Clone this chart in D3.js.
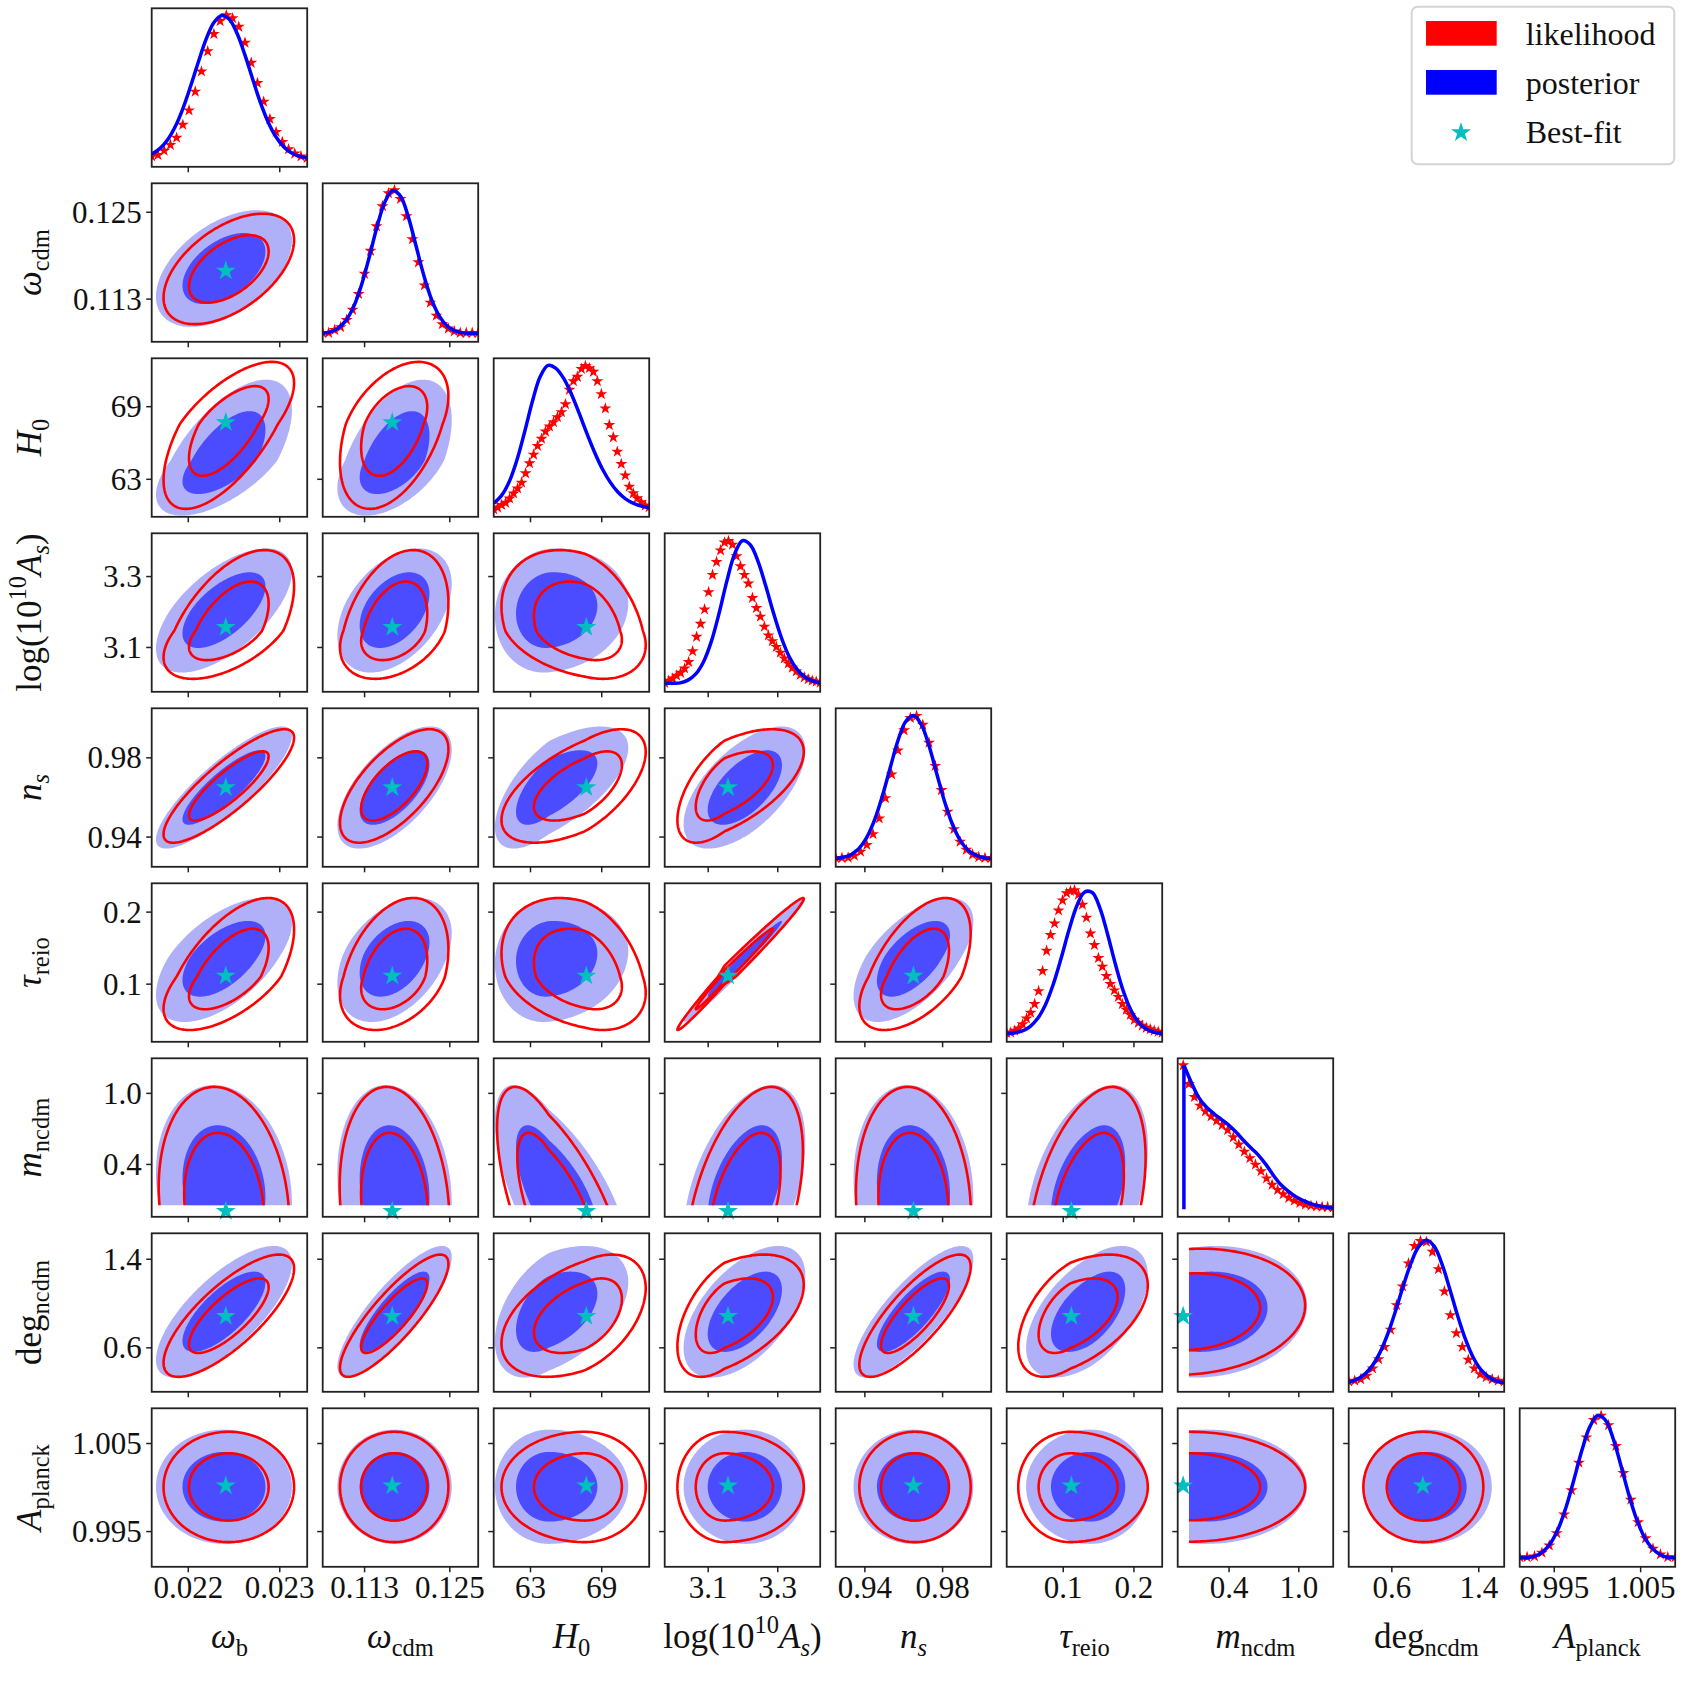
<!DOCTYPE html>
<html>
<head>
<meta charset="utf-8">
<script src="https://cdn.jsdelivr.net/npm/d3@7"></script>
<style>
  body { margin: 0; background: #fff; }
  svg { display: block; }
</style>
</head>
<body>
<div id="chart"></div>
<script>
// parameters in triangle order
const params = ['omega_b', 'omega_cdm', 'H0', 'logAs', 'n_s', 'tau_reio', 'm_ncdm', 'deg_ncdm', 'A_planck'];

// plotted range of every parameter
const domLo = [0.02160, 0.1071, 59.9, 2.975, 0.925, 0.020, -0.042, 0.203, 0.9910];
const domHi = [0.02330, 0.1290, 73.0, 3.422, 1.005, 0.240, 1.296, 1.634, 1.0090];

const tickVals = [[0.022, 0.023], [0.113, 0.125], [63, 69], [3.1, 3.3], [0.94, 0.98],
                  [0.1, 0.2], [0.4, 1.0], [0.6, 1.4], [0.995, 1.005]];
const tickText = [['0.022', '0.023'], ['0.113', '0.125'], ['63', '69'], ['3.1', '3.3'], ['0.94', '0.98'],
                  ['0.1', '0.2'], ['0.4', '1.0'], ['0.6', '1.4'], ['0.995', '1.005']];

const bestFit = [0.02241, 0.1169, 67.7, 3.157, 0.965, 0.1115, 0.005, 0.885, 1.0002];

// 2D posterior: centre and (lower / upper) widths
const postMean  = [0.02239, 0.11722, 64.56, 3.207, 0.9650, 0.1377, 0.20, 0.9257, 1.00009];
const postSigLo = [0.000299, 0.00324, 1.834, 0.0715, 0.0124, 0.0363, 0.35, 0.239, 0.00261];
const postSigHi = [0.000299, 0.00324, 2.686, 0.0693, 0.0124, 0.0330, 0.35, 0.239, 0.00261];

// 2D likelihood
const likeMean  = [0.022443, 0.11717, 67.56, 3.147, 0.9658, 0.1102, 0.06, 0.890, 1.00007];
const likeSigLo = [0.000287, 0.00307, 2.817, 0.0545, 0.01152, 0.0297, 0.40, 0.222, 0.00252];
const likeSigHi = [0.000287, 0.00307, 2.070, 0.0916, 0.01152, 0.0440, 0.40, 0.222, 0.00252];

// 2D likelihood as seen in the panels that share an axis with m_ncdm
const likeMeanM  = [0.02239, 0.11722, 64.56, 3.207, 0.9650, 0.1377, 0.06, 0.9257, 1.00009];
const likeSigLoM = [0.000287, 0.00311, 1.76, 0.0686, 0.0119, 0.0348, 0.40, 0.229, 0.00251];
const likeSigHiM = [0.000287, 0.00311, 2.58, 0.0665, 0.0119, 0.0317, 0.40, 0.229, 0.00251];
const mIndex = 6;

// correlations, lower triangle (row = y parameter, entry = x parameter)
const postCorr = [
  [],
  [0.48],
  [0.62, 0.50],
  [0.62, 0.42, 0.10],
  [0.85, 0.62, 0.65, 0.60],
  [0.58, 0.40, 0.10, 0.985, 0.60],
  [-0.15, -0.15, -0.65, 0.45, -0.10, 0.40],
  [0.73, 0.83, 0.45, 0.55, 0.80, 0.55, 0.10],
  [0, 0, 0, 0, 0, 0, 0, 0]
];
const likeCorr = [
  [],
  [0.52],
  [0.66, 0.45],
  [0.55, 0.35, -0.30],
  [0.85, 0.65, 0.60, 0.60],
  [0.60, 0.35, -0.30, 0.99, 0.55],
  [-0.15, -0.15, -0.65, 0.45, -0.10, 0.40],
  [0.77, 0.85, 0.45, 0.50, 0.80, 0.50, 0.10],
  [0, 0, 0, 0, 0, 0, 0, 0]
];

// lowest sampled value in the 2D chains, prior edge, start of the likelihood scan
const cutLo   = [null, null, null, null, null, null, 0.055, null, null];
const priorLo = [null, null, null, null, null, null, 0.0115, null, null];
const scanLo  = [null, null, null, null, null, null, 0.006, null, null];

// profile likelihood (stars), evenly spaced from scan start to range end
const likeProfile = [
  [0.02,0.03,0.06,0.10,0.15,0.24,0.34,0.47,0.61,0.75,0.87,0.96,1.00,0.98,0.92,0.81,0.67,0.53,0.40,0.28,0.19,0.12,0.07,0.04,0.02,0.01],
  [0.01,0.01,0.03,0.05,0.10,0.17,0.28,0.42,0.58,0.75,0.89,0.98,1.00,0.94,0.82,0.66,0.50,0.34,0.22,0.13,0.07,0.04,0.02,0.01,0.01,0.01,0.01],
  [0.00,0.012,0.03,0.045,0.075,0.11,0.145,0.185,0.25,0.32,0.38,0.44,0.49,0.54,0.575,0.605,0.64,0.675,0.73,0.83,0.89,0.92,0.975,0.995,0.98,0.955,0.89,0.80,0.70,0.585,0.50,0.40,0.315,0.235,0.157,0.111,0.077,0.05,0.026,0.015],
  [0.01,0.025,0.04,0.06,0.08,0.11,0.155,0.23,0.33,0.42,0.52,0.64,0.76,0.85,0.93,0.985,0.995,0.97,0.89,0.82,0.76,0.70,0.60,0.53,0.47,0.40,0.34,0.30,0.26,0.22,0.18,0.145,0.115,0.09,0.065,0.048,0.035,0.025,0.018,0.012],
  [0.01,0.01,0.012,0.026,0.053,0.10,0.175,0.284,0.425,0.59,0.756,0.896,0.982,0.996,0.934,0.81,0.649,0.481,0.33,0.209,0.122,0.066,0.033,0.015,0.01,0.01],
  [0.01,0.012,0.025,0.04,0.07,0.11,0.15,0.21,0.30,0.44,0.58,0.69,0.77,0.86,0.93,0.98,0.995,1.0,0.97,0.90,0.81,0.70,0.62,0.53,0.47,0.405,0.35,0.305,0.26,0.21,0.17,0.135,0.10,0.08,0.06,0.045,0.035,0.025,0.018,0.012],
  [1.0,0.87,0.78,0.72,0.68,0.645,0.615,0.585,0.55,0.50,0.45,0.40,0.355,0.31,0.265,0.215,0.17,0.135,0.105,0.08,0.06,0.045,0.033,0.025,0.02,0.017,0.015,0.013],
  [0.02,0.025,0.035,0.06,0.11,0.175,0.26,0.38,0.55,0.68,0.84,0.96,0.995,0.99,0.92,0.80,0.645,0.48,0.355,0.26,0.17,0.11,0.07,0.05,0.035,0.025,0.02],
  [0.015,0.015,0.02,0.046,0.096,0.182,0.311,0.48,0.671,0.847,0.967,0.998,0.932,0.787,0.60,0.414,0.258,0.146,0.074,0.034,0.015,0.015]
];

// marginalised posterior (line), evenly spaced from prior edge / range start to range end
const postProfile = [
  [0.036,0.072,0.132,0.224,0.351,0.507,0.676,0.834,0.950,0.999,0.971,0.872,0.723,0.554,0.392,0.256,0.155,0.086,0.044,0.021,0.010],
  [0.008,0.017,0.043,0.097,0.194,0.344,0.539,0.748,0.918,0.998,0.960,0.817,0.615,0.410,0.242,0.126,0.058,0.024,0.010,0.008,0.008],
  [0.041,0.095,0.192,0.344,0.542,0.754,0.924,0.999,0.979,0.909,0.799,0.666,0.525,0.393,0.278,0.187,0.118,0.071,0.041,0.022,0.011],
  [0.008,0.008,0.010,0.029,0.072,0.157,0.298,0.495,0.718,0.906,0.997,0.969,0.854,0.682,0.494,0.325,0.193,0.105,0.051,0.023,0.009],
  [0.006,0.014,0.034,0.076,0.152,0.273,0.439,0.634,0.823,0.957,0.999,0.937,0.788,0.594,0.402,0.245,0.133,0.065,0.029,0.011,0.006],
  [0.005,0.009,0.023,0.054,0.111,0.207,0.349,0.528,0.722,0.889,0.987,0.985,0.875,0.690,0.483,0.300,0.165,0.081,0.035,0.014,0.006],
  [1.0,0.88,0.775,0.71,0.665,0.625,0.585,0.535,0.478,0.425,0.375,0.31,0.235,0.17,0.125,0.088,0.06,0.04,0.025,0.015,0.008],
  [0.015,0.033,0.067,0.126,0.218,0.346,0.506,0.680,0.840,0.956,1.0,0.958,0.835,0.662,0.478,0.315,0.188,0.102,0.051,0.023,0.010],
  [0.010,0.010,0.023,0.054,0.115,0.217,0.368,0.558,0.757,0.918,0.997,0.968,0.842,0.655,0.456,0.284,0.158,0.079,0.035,0.014,0.010]
];

const axisLabels = [
  [{t: 'ω', i: 1}, {t: 'b', sub: 1}],
  [{t: 'ω', i: 1}, {t: 'cdm', sub: 1}],
  [{t: 'H', i: 1}, {t: '0', sub: 1}],
  [{t: 'log(10'}, {t: '10', sup: 1}, {t: 'A', i: 1}, {t: 's', i: 1, sub: 1}, {t: ')'}],
  [{t: 'n', i: 1}, {t: 's', i: 1, sub: 1}],
  [{t: 'τ', i: 1}, {t: 'reio', sub: 1}],
  [{t: 'm', i: 1}, {t: 'ncdm', sub: 1}],
  [{t: 'deg'}, {t: 'ncdm', sub: 1}],
  [{t: 'A', i: 1}, {t: 'planck', sub: 1}]
];

const legendItems = ['likelihood', 'posterior', 'Best-fit'];

// ---------------------------------------------------------------
const W = 1685, H = 1685;
const left0 = 151.7, colStep = 171, pw = 155.5;
const top0 = 8.3, rowStep = 175, ph = 158.5;
const n = params.length;
const RED = '#ff0000', BLUE = '#0000ff', LIGHT = '#b0b0f9', DARK = '#4b4bff', CYAN = '#00bfbf', FRAME = '#222';
const R68 = Math.sqrt(2.30), R95 = Math.sqrt(6.18);

const svg = d3.select('#chart').append('svg')
  .attr('width', W).attr('height', H)
  .style('font-family', '"Liberation Serif", "DejaVu Serif", serif');
const defs = svg.append('defs');

const xScale = k => d3.scaleLinear().domain([domLo[k], domHi[k]]).range([0, pw]);
const yScale = k => d3.scaleLinear().domain([domLo[k], domHi[k]]).range([ph, 0]);
const vScale = d3.scaleLinear().domain([0, 1]).range([ph - 7.5, 7]);

function starPath(R) {
  const r = R * 0.382;
  let p = '';
  for (let i = 0; i < 10; i++) {
    const a = -Math.PI / 2 + i * Math.PI / 5;
    const rr = i % 2 ? r : R;
    p += (i ? 'L' : 'M') + (rr * Math.cos(a)).toFixed(2) + ',' + (rr * Math.sin(a)).toFixed(2);
  }
  return p + 'Z';
}

function richText(sel, segs, fs) {
  let shift = 0;
  segs.forEach(s => {
    const target = s.sub ? 0.22 * fs : s.sup ? -0.42 * fs : 0;
    sel.append('tspan')
      .attr('dy', target - shift)
      .style('font-style', s.i ? 'italic' : 'normal')
      .style('font-size', (s.sub || s.sup ? fs * 0.7 : fs) + 'px')
      .text(s.t);
    shift = target;
  });
}

// contour of a (split) gaussian in the i (x) / j (y) plane
function contour(mean, lo, hi, i, j, rho, r) {
  const c = Math.sqrt(1 - rho * rho);
  return d3.range(240).map(s => {
    const t = 2 * Math.PI * s / 240;
    const z1 = r * Math.cos(t);
    const z2 = r * (rho * Math.cos(t) + c * Math.sin(t));
    return [mean[i] + z1 * (z1 < 0 ? lo[i] : hi[i]), mean[j] + z2 * (z2 < 0 ? lo[j] : hi[j])];
  });
}

function evenGrid(a, b, count) {
  return d3.range(count).map(q => a + (b - a) * q / (count - 1));
}

for (let r = 0; r < n; r++) {
  for (let c = 0; c <= r; c++) {
    const g = svg.append('g').attr('transform', `translate(${left0 + c * colStep},${top0 + r * rowStep})`);
    const xs = xScale(c), ys = yScale(r);
    const clipId = `clip-${r}-${c}`;
    let cx0 = 0, cy1 = ph;
    if (r !== c) {
      if (cutLo[c] !== null) cx0 = xs(cutLo[c]);
      if (cutLo[r] !== null) cy1 = ys(cutLo[r]);
    }
    defs.append('clipPath').attr('id', clipId).append('rect')
      .attr('x', cx0).attr('y', 0).attr('width', pw - cx0).attr('height', cy1);
    const body = g.append('g').attr('clip-path', `url(#${clipId})`);

    if (r === c) {
      // 1D panel
      const sx0 = scanLo[c] !== null ? scanLo[c] : domLo[c];
      const sGrid = evenGrid(sx0, domHi[c], likeProfile[c].length);
      body.selectAll('path.lstar').data(likeProfile[c]).enter().append('path')
        .attr('class', 'lstar')
        .attr('d', starPath(6.3))
        .attr('transform', (d, q) => `translate(${xs(sGrid[q])},${vScale(d)})`)
        .attr('fill', RED);
      const px0 = priorLo[c] !== null ? priorLo[c] : domLo[c];
      const pGrid = evenGrid(px0, domHi[c], postProfile[c].length);
      const pts = postProfile[c].map((v, q) => [pGrid[q], v]);
      if (priorLo[c] !== null) {
        body.append('path')
          .attr('d', d3.line()([[xs(px0), vScale(0)], [xs(px0), vScale(postProfile[c][0])]]))
          .attr('stroke', BLUE).attr('stroke-width', 3.5).attr('fill', 'none');
      }
      const curve = priorLo[c] !== null ? d3.curveMonotoneX : d3.curveCatmullRom.alpha(0.5);
      body.append('path')
        .attr('d', d3.line().x(d => xs(d[0])).y(d => vScale(d[1])).curve(curve)(pts))
        .attr('stroke', BLUE).attr('stroke-width', 3.5).attr('fill', 'none');
    } else {
      // 2D panel
      const line = d3.line().x(d => xs(d[0])).y(d => ys(d[1])).curve(d3.curveLinearClosed);
      const rp = postCorr[r][c], rl = likeCorr[r][c];
      const withM = (r === mIndex || c === mIndex);
      const lm = withM ? likeMeanM : likeMean;
      const llo = withM ? likeSigLoM : likeSigLo;
      const lhi = withM ? likeSigHiM : likeSigHi;
      body.append('path').attr('d', line(contour(postMean, postSigLo, postSigHi, c, r, rp, R95))).attr('fill', LIGHT);
      body.append('path').attr('d', line(contour(postMean, postSigLo, postSigHi, c, r, rp, R68))).attr('fill', DARK);
      [R95, R68].forEach(rad => {
        body.append('path').attr('d', line(contour(lm, llo, lhi, c, r, rl, rad)))
          .attr('fill', 'none').attr('stroke', RED).attr('stroke-width', 2.6);
      });
      g.append('path').attr('d', starPath(10.5))
        .attr('transform', `translate(${xs(bestFit[c])},${ys(bestFit[r])})`)
        .attr('fill', CYAN);
    }

    // frame
    g.append('rect').attr('width', pw).attr('height', ph)
      .attr('fill', 'none').attr('stroke', FRAME).attr('stroke-width', 1.8);

    // ticks
    tickVals[c].forEach((v, q) => {
      g.append('line').attr('x1', xs(v)).attr('x2', xs(v)).attr('y1', ph).attr('y2', ph + 5.5)
        .attr('stroke', FRAME).attr('stroke-width', 1.5);
      if (r === n - 1) {
        g.append('text').attr('x', xs(v)).attr('y', ph + 31.5)
          .attr('text-anchor', 'middle').style('font-size', '31px').attr('fill', '#111')
          .text(tickText[c][q]);
      }
    });
    if (r !== c) {
      tickVals[r].forEach((v, q) => {
        g.append('line').attr('x1', 0).attr('x2', -5.5).attr('y1', ys(v)).attr('y2', ys(v))
          .attr('stroke', FRAME).attr('stroke-width', 1.5);
        if (c === 0) {
          g.append('text').attr('x', -10).attr('y', ys(v) + 10.5)
            .attr('text-anchor', 'end').style('font-size', '31px').attr('fill', '#111')
            .text(tickText[r][q]);
        }
      });
    }
  }
}

// axis titles
for (let k = 0; k < n; k++) {
  const t = svg.append('text')
    .attr('x', left0 + k * colStep + pw / 2).attr('y', 1648)
    .attr('text-anchor', 'middle').attr('fill', '#111');
  richText(t, axisLabels[k], 35);
  if (k > 0) {
    const ty = svg.append('text')
      .attr('transform', `translate(41,${top0 + k * rowStep + ph / 2}) rotate(-90)`)
      .attr('text-anchor', 'middle').attr('fill', '#111');
    richText(ty, axisLabels[k], 35);
  }
}

// legend
const lg = svg.append('g');
lg.append('rect').attr('x', 1411.7).attr('y', 6.7).attr('width', 262.6).attr('height', 157.6)
  .attr('rx', 6).attr('fill', '#fff').attr('fill-opacity', 0.8)
  .attr('stroke', '#d4d4d4').attr('stroke-width', 2);
lg.append('rect').attr('x', 1426).attr('y', 21).attr('width', 70.7).attr('height', 24.7).attr('fill', RED);
lg.append('rect').attr('x', 1426).attr('y', 70).attr('width', 70.7).attr('height', 24.7).attr('fill', BLUE);
lg.append('path').attr('d', starPath(10.5)).attr('transform', 'translate(1461,132.5)').attr('fill', CYAN);
legendItems.forEach((s, q) => {
  lg.append('text').attr('x', 1525.7).attr('y', 45 + q * 49)
    .style('font-size', '32px').attr('fill', '#111').text(s);
});
</script>
</body>
</html>
